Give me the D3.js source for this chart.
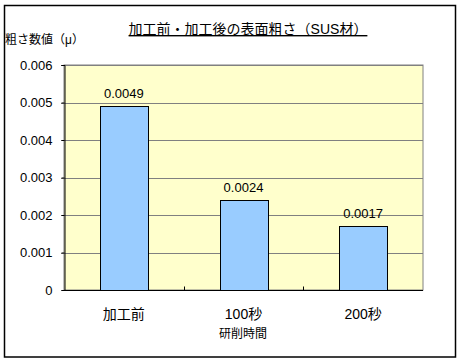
<!DOCTYPE html>
<html>
<head>
<meta charset="utf-8">
<script src="https://cdn.jsdelivr.net/npm/d3@7"></script>
<style>
  body { margin: 0; background: #fff; }
  text { font-family: "Liberation Sans", "Noto Sans CJK JP", sans-serif; }
</style>
</head>
<body>
<script>
// chart data
const categories = ['加工前', '100秒', '200秒'];
const values = [0.0049, 0.0024, 0.0017];
const labels = ['0.0049', '0.0024', '0.0017'];
const yTicks = [0, 0.001, 0.002, 0.003, 0.004, 0.005, 0.006];

const W = 462, H = 362;
const plot = { left: 64, top: 65, right: 423, bottom: 290 };

const svg = d3.select('body')
    .append('svg')
    .attr('width', W)
    .attr('height', H);

// outer frame
svg.append('rect')
    .attr('x', 4.5).attr('y', 5.5)
    .attr('width', 451).attr('height', 351.5)
    .attr('fill', '#fff')
    .attr('stroke', '#000')
    .attr('stroke-width', 1.5);

const x = d3.scaleBand()
    .domain(categories)
    .range([plot.left, plot.right])
    .paddingInner(0)
    .paddingOuter(0);

const y = d3.scaleLinear()
    .domain([0, 0.006])
    .range([plot.bottom, plot.top]);

// plot background
svg.append('rect')
    .attr('x', plot.left).attr('y', plot.top)
    .attr('width', plot.right - plot.left)
    .attr('height', plot.bottom - plot.top)
    .attr('fill', '#FFFFCC')
    .attr('stroke', '#808080');

// gridlines
svg.selectAll('.grid')
    .data(yTicks.slice(1))
    .join('line')
        .attr('x1', plot.left - 3)
        .attr('x2', plot.right)
        .attr('y1', d => Math.round(y(d)) + 0.5)
        .attr('y2', d => Math.round(y(d)) + 0.5)
        .attr('stroke', '#808080');

// bars
const barW = 48;
svg.selectAll('.bar')
    .data(values)
    .join('rect')
        .attr('x', (d, i) => Math.round(x(categories[i]) + x.bandwidth() / 2 - barW / 2) + 0.5)
        .attr('y', d => Math.round(y(d)) + 0.5)
        .attr('width', barW)
        .attr('height', d => Math.round(y(0)) - Math.round(y(d)))
        .attr('fill', '#99CCFF')
        .attr('stroke', '#000');

// data labels
svg.selectAll('.lbl')
    .data(values)
    .join('text')
        .attr('x', (d, i) => x(categories[i]) + x.bandwidth() / 2)
        .attr('y', d => y(d) - 8)
        .attr('text-anchor', 'middle')
        .attr('font-size', 13)
        .text((d, i) => labels[i]);

// y axis
const yAxis = svg.append('g')
    .attr('transform', `translate(${plot.left + 0.5},0)`)
    .call(d3.axisLeft(y).tickValues(yTicks).tickSize(3).tickFormat(d => d === 0 ? '0' : d.toFixed(3)));
yAxis.select('.domain').attr('stroke', '#000');
yAxis.selectAll('.tick line').attr('stroke', '#000');
yAxis.selectAll('.tick text')
    .attr('x', -12)
    .attr('font-size', 13)
    .attr('fill', '#000')
    .style('font-family', '"Liberation Sans", "Noto Sans CJK JP", sans-serif');

// x axis
const xAxis = svg.append('g')
    .attr('transform', `translate(0,${plot.bottom + 0.5})`);
xAxis.append('line')
    .attr('x1', plot.left).attr('x2', plot.right)
    .attr('stroke', '#000');
xAxis.selectAll('.xt')
    .data(categories.slice(1))
    .join('line')
        .attr('x1', d => Math.round(x(d)) + 0.5)
        .attr('x2', d => Math.round(x(d)) + 0.5)
        .attr('y1', 0).attr('y2', -4)
        .attr('stroke', '#000');
xAxis.selectAll('.xl')
    .data(categories)
    .join('text')
        .attr('x', d => x(d) + x.bandwidth() / 2)
        .attr('y', 28)
        .attr('text-anchor', 'middle')
        .attr('font-size', 14)
        .text(d => d);

// titles
svg.append('text')
    .attr('x', 248)
    .attr('y', 34)
    .attr('text-anchor', 'middle')
    .attr('font-size', 14)
    .attr('text-decoration', 'underline')
    .text('加工前・加工後の表面粗さ（SUS材）');

svg.append('text')
    .attr('x', 5)
    .attr('y', 44)
    .attr('font-size', 12)
    .text('粗さ数値（μ）');

svg.append('text')
    .attr('x', 243)
    .attr('y', 338)
    .attr('text-anchor', 'middle')
    .attr('font-size', 12)
    .text('研削時間');
</script>
</body>
</html>
